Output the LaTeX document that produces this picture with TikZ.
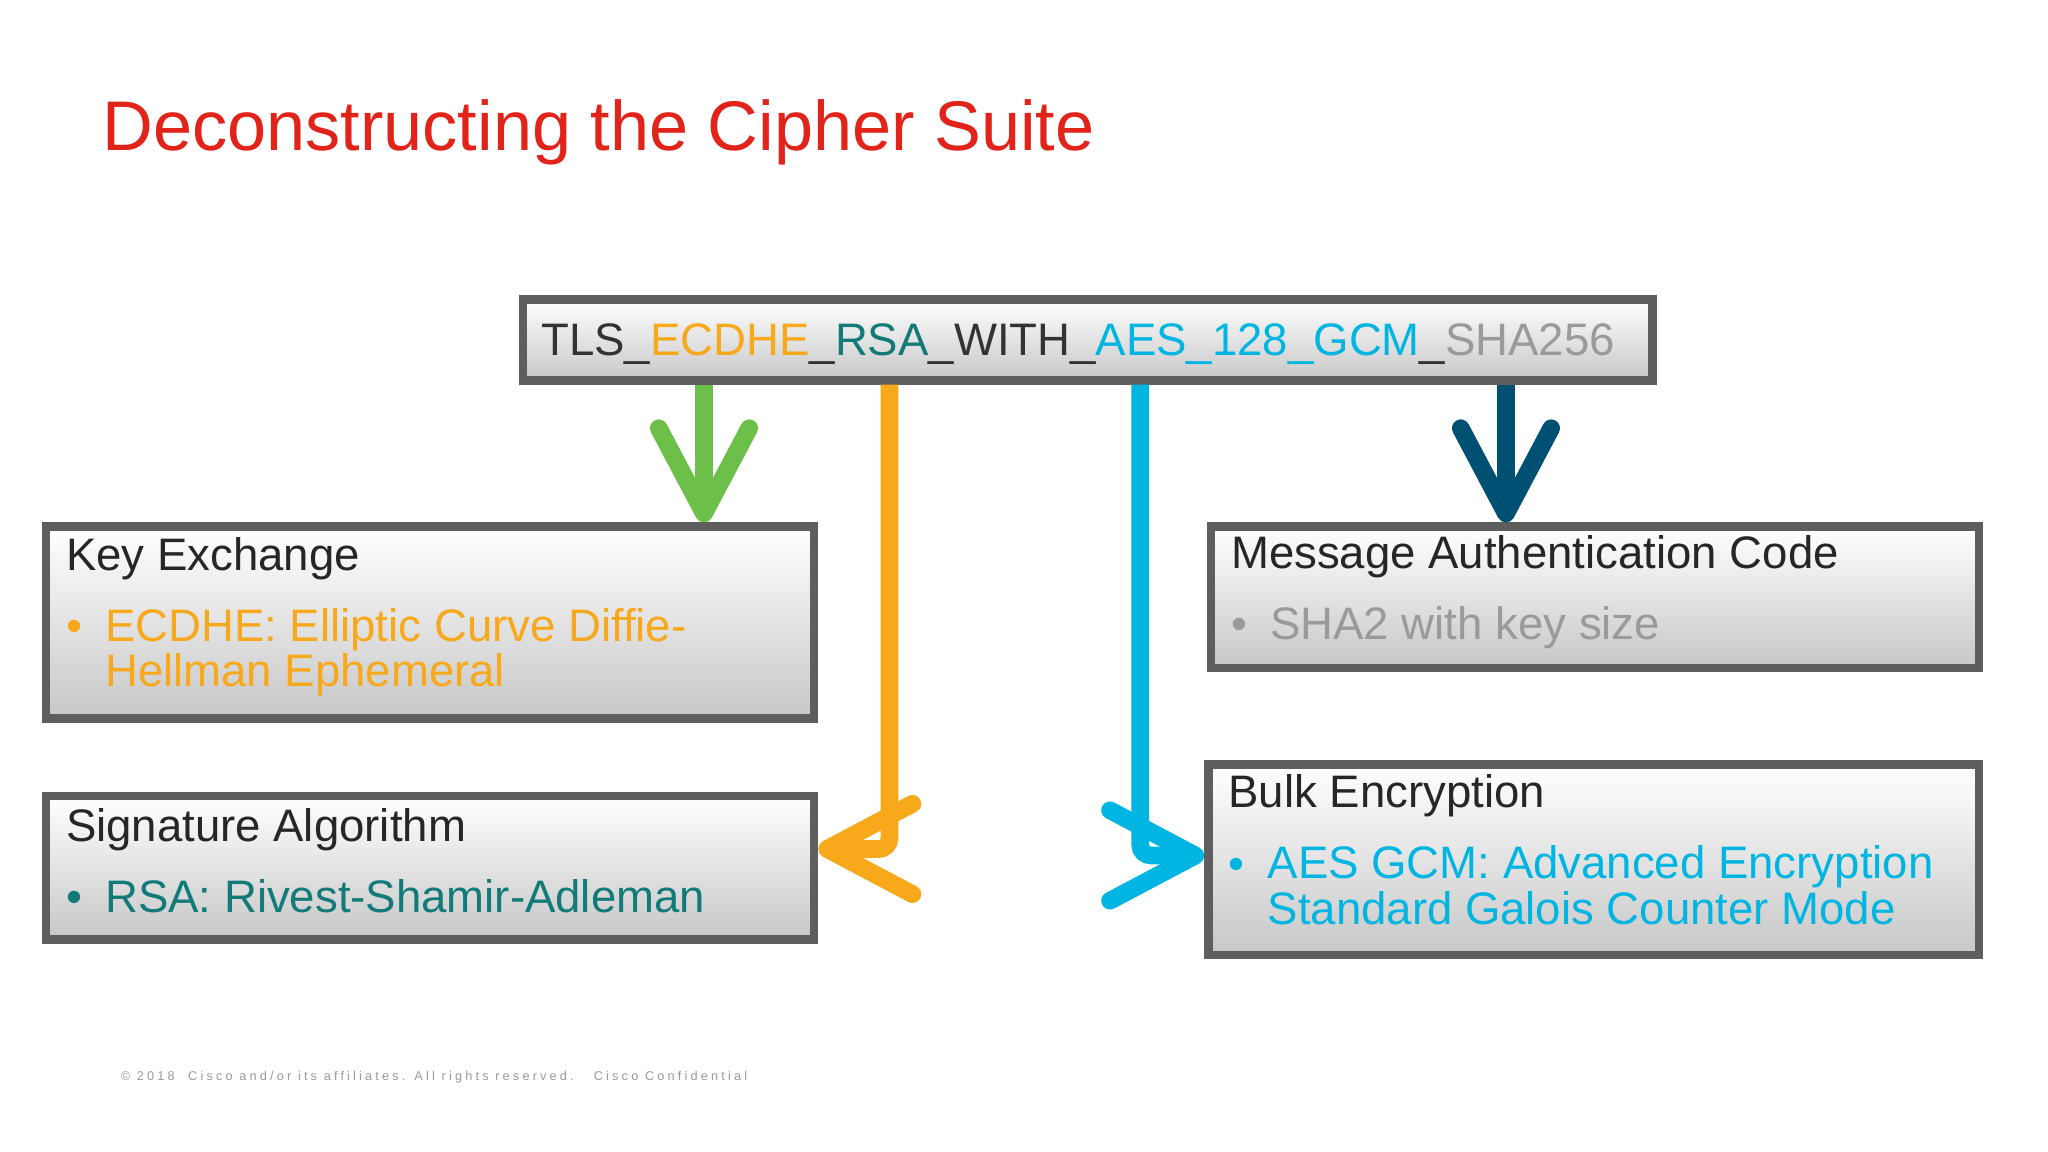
\documentclass[tikz,border=0pt]{standalone}
\usepackage{fontspec}
\setmainfont{Liberation Sans}
\usetikzlibrary{arrows.meta,positioning}
\definecolor{ciscored}{HTML}{E2231A}
\definecolor{kexorange}{HTML}{F7A81B}
\definecolor{rsateal}{HTML}{127A78}
\definecolor{aescyan}{HTML}{00B5E2}
\definecolor{shagray}{HTML}{9A9A9A}
\definecolor{macblue}{HTML}{005073}
\definecolor{kexgreen}{HTML}{6CC04A}
\definecolor{boxgray}{HTML}{5E5E5E}
\tikzset{
  panel/.style = {draw=boxgray, line width=2.4pt, rectangle, inner sep=0pt,
    top color=white, bottom color=black!22, anchor=north west},
  head/.style = {anchor=base west, inner sep=0pt, font=\fontsize{12.9}{15}\selectfont, text=black!85},
  item/.style = {anchor=north west, inner sep=0pt, align=left,
    font=\fontsize{12.9}{12.9}\selectfont},
  dot/.style = {anchor=base west, inner sep=0pt, font=\fontsize{12.9}{12.9}\selectfont},
  flow/.style = {line width=5pt, rounded corners=3pt,
    -{Straight Barb[length=8.5mm, width=9mm, line width=5pt, round]}}
}
\begin{document}
\begin{tikzpicture}[x=0.013cm, y=-0.013cm]
\useasboundingbox (0,0) rectangle (1568,882);
\node[anchor=base west, inner sep=0pt, text=ciscored, font=\fontsize{19.9}{23}\selectfont]
  (title) at (78,115) {Deconstructing the Cipher Suite};

% cipher suite string
\node[panel, minimum width=865*0.013cm, minimum height=62*0.013cm] (suite) at (397,226) {};
\node[anchor=base west, inner sep=0pt, font=\fontsize{12.9}{15}\selectfont] (suitetext) at (414,272)
  {\textcolor{black!80}{TLS\_}\textcolor{kexorange}{ECDHE}\textcolor{black!80}{\_}\textcolor{rsateal}{RSA}\textcolor{black!80}{\_WITH\_}\textcolor{aescyan}{AES\_128\_GCM}\textcolor{black!80}{\_}\textcolor{shagray}{SHA256}};

% the four parts
\node[panel, minimum width=588*0.013cm, minimum height=147*0.013cm] (kex) at (32,400) {};
\node[panel, minimum width=588*0.013cm, minimum height=110*0.013cm] (sig) at (32,606) {};
\node[panel, minimum width=588*0.013cm, minimum height=108*0.013cm] (mac) at (924,400) {};
\node[panel, minimum width=590*0.013cm, minimum height=146*0.013cm] (bulk) at (922,582) {};

\node[head] (kexhead) at (50,437) {Key Exchange};
\node[dot, text=kexorange] (kexdot) at (50,491) {•};
\node[item, text=kexorange] (kextext) at (80,465) {ECDHE: Elliptic Curve Diffie-\\Hellman Ephemeral};
\node[head] (sighead) at (50,644) {Signature Algorithm};
\node[dot, text=rsateal] (sigdot) at (50,699) {•};
\node[item, text=rsateal] (sigtext) at (80,673) {RSA: Rivest-Shamir-Adleman};
\node[head] (machead) at (942,435) {Message Authentication Code};
\node[dot, text=shagray] (macdot) at (942,490) {•};
\node[item, text=shagray] (mactext) at (972,464) {SHA2 with key size};
\node[head] (bulkhead) at (940,618) {Bulk Encryption};
\node[dot, text=aescyan] (bulkdot) at (940,673) {•};
\node[item, text=aescyan] (bulktext) at (970,647) {AES GCM: Advanced Encryption\\Standard Galois Counter Mode};

% connectors
\coordinate (gx) at (539,0);
\coordinate (ox) at (681,0);
\coordinate (cx) at (873,0);
\coordinate (dx) at (1153,0);
\coordinate (oy) at (0,650);
\coordinate (cy) at (0,655);
\draw[flow, kexgreen] (gx |- suite.south) -- (gx |- kex.north);
\draw[flow, macblue] (dx |- suite.south) -- (dx |- mac.north);
\draw[flow, kexorange] (ox |- suite.south) |- (sig.east |- oy);
\draw[flow, aescyan] (cx |- suite.south) |- (bulk.west |- cy);

\node[anchor=base west, inner sep=0pt, text=black!40, font=\fontsize{3.6}{5}\selectfont\addfontfeatures{LetterSpace=25}]
  (footer) at (92,827) {© 2018\ \ Cisco and/or its affiliates. All rights reserved.\ \ \ Cisco Confidential};
\end{tikzpicture}
\end{document}
